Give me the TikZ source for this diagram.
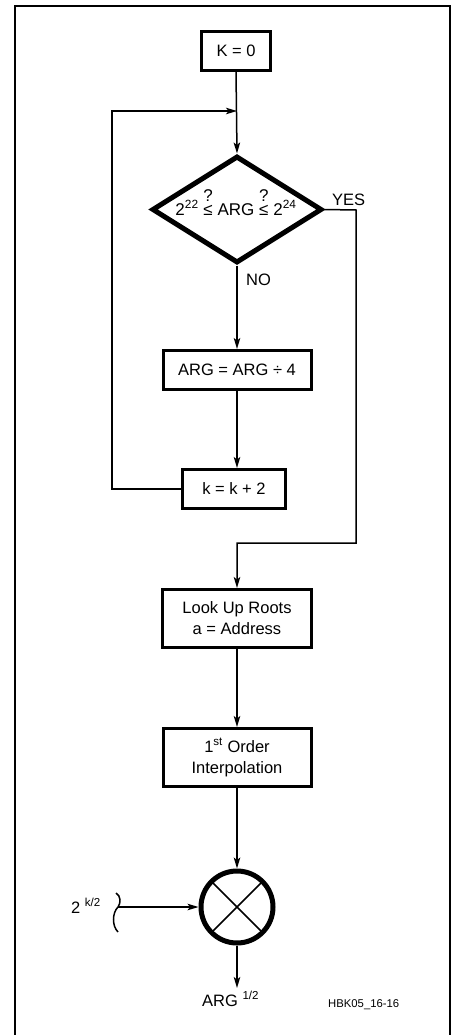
\documentclass[tikz,border=0pt]{standalone}
\usepackage{fontspec}
\setmainfont{Liberation Sans}
\usetikzlibrary{arrows.meta,shapes.geometric,calc}
\newcommand\qle{\ooalign{\hfil\raisebox{0.8em}{?}\hfil\cr ≤\cr}}
\begin{document}
\begin{tikzpicture}[x=1pt,y=-1pt,
  conn/.style={line width=1.5pt,-{Stealth[length=11pt,width=6.5pt,inset=2.5pt]}},
  wire/.style={line width=1.5pt},
  box/.style={draw,line width=3pt,rectangle,inner sep=0pt,align=center,font=\fontsize{16.5}{21}\selectfont},
  lbl/.style={inner sep=0pt,font=\fontsize{16.5}{20}\selectfont}]
\useasboundingbox (0,0) rectangle (456,1035);
\draw[line width=2.5pt] (15,1045) -- (15,6) -- (450,6) -- (450,1045);

\node[box,minimum width=69pt,minimum height=39pt] (k0) at (236,51) {K = 0};
\node[draw,diamond,line width=5pt,minimum width=170pt,minimum height=107pt,inner sep=0pt] (dec) at (237,209.5) {};
\node[lbl,anchor=base,font=\fontsize{17}{20}\selectfont] (dect) at (236,215) {2\textsuperscript{22} \qle{} ARG \qle{} 2\textsuperscript{24}};
\node[box,minimum width=148pt,minimum height=39pt] (argb) at (237,370) {ARG = ARG ÷ 4};
\node[box,minimum width=103pt,minimum height=39pt] (k2) at (234,489) {k = k + 2};
\node[box,minimum width=149pt,minimum height=58pt] (look) at (237,618.5) {Look Up Roots\\a = Address};
\node[box,minimum width=148pt,minimum height=58pt] (first) at (237,757.5) {1\textsuperscript{st} Order\\Interpolation};
\node[draw,circle,line width=5pt,minimum size=72pt,inner sep=0pt] (mul) at (237,907) {};

\coordinate (join) at (237,111);
\coordinate (src) at (118,907);
\coordinate (out) at (237,988);

\draw[wire] (mul.center) -- +(45:34) (mul.center) -- +(135:34)
            (mul.center) -- +(225:34) (mul.center) -- +(315:34);

\draw[conn] (k0.south) -- (dec.north);
\draw[conn] (k2.west) -| (112,111) -- (join);
\draw[conn] (dec.south) -- (argb.north);
\draw[conn] (argb.south) -- (argb.south |- k2.north);
\draw[conn] (dec.east) -- (356,210) -- (356,543) -- (237,543) -- (look.north);
\draw[conn] (look.south) -- (first.north);
\draw[conn] (first.south) -- (mul.north);
\draw[conn] (src) -- (mul.west);
\draw[conn] (mul.south) -- (out);
\draw[wire] (116,893) .. controls (121,896) and (121,903) .. (src)
            .. controls (112,913) and (112,926) .. (118,932);

\node[lbl,anchor=base west] (yes) at (332,205) {YES};
\node[lbl,anchor=base west] (no) at (246,285) {NO};
\node[lbl,anchor=base west] (kin) at (71,913) {2 \textsuperscript{k/2}};
\node[lbl,anchor=base west] (res) at (202,1006) {ARG \textsuperscript{1/2}};
\node[lbl,anchor=base west,font=\fontsize{11.3}{13}\selectfont] (id) at (328,1007) {HBK05\_16-16};
\end{tikzpicture}
\end{document}
